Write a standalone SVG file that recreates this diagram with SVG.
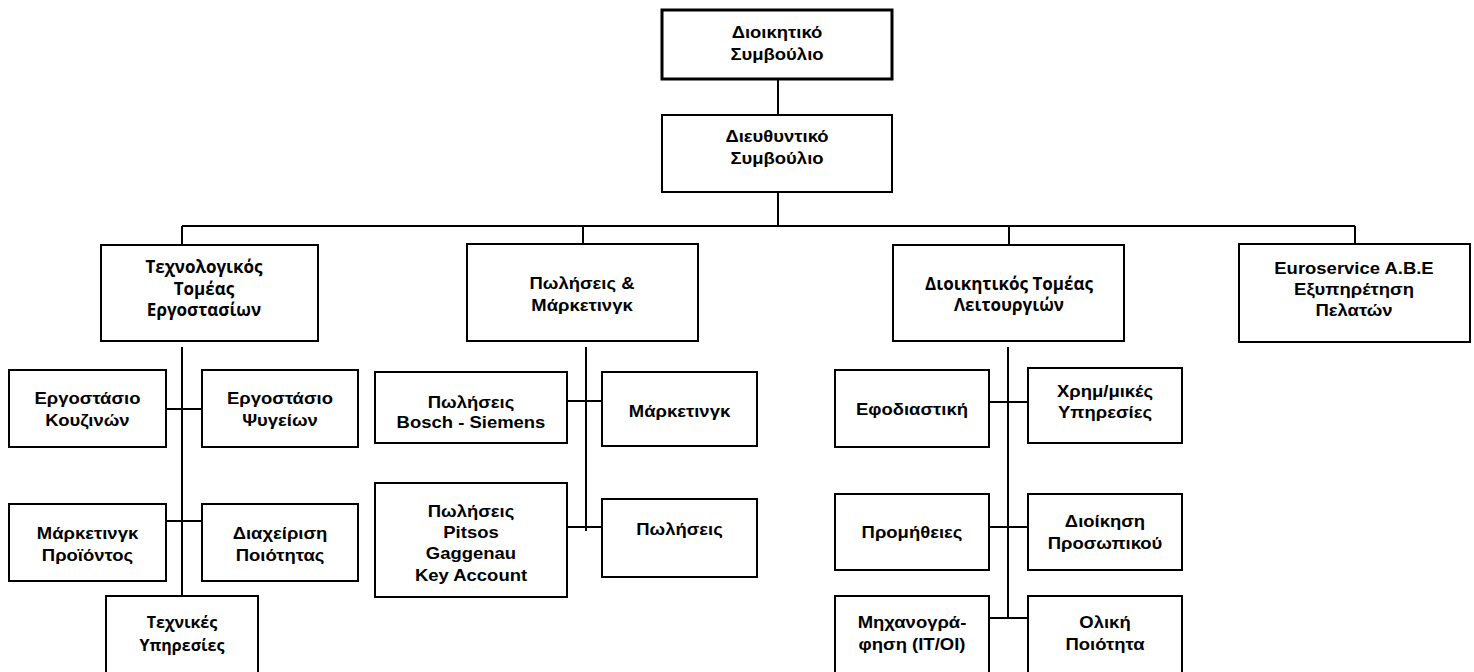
<svg xmlns="http://www.w3.org/2000/svg" width="1474" height="672" viewBox="0 0 1474 672">
  <style>
    .box { fill: #ffffff; stroke: #000000; stroke-width: 2; }
    .box-top { fill: #ffffff; stroke: #000000; stroke-width: 3; }
    .wire { fill: none; stroke: #000000; stroke-width: 2; }
    .lbl { font-family: "Liberation Sans", Arial, sans-serif; font-weight: bold; font-size: 16.5px; fill: #000000; text-anchor: middle; }
    .lbl2 { font-family: "Open Sans", "Noto Sans", sans-serif; font-weight: bold; font-size: 17px; fill: #000000; text-anchor: middle; }
    .lbl2s { font-size: 16px; }
  </style>

  <!-- connectors -->
  <g id="connectors">
    <path class="wire" d="M778 79 V115"/>
    <path class="wire" d="M778 192 V226"/>
    <path class="wire" d="M182 226 H1355"/>
    <path class="wire" d="M182 226 V245"/>
    <path class="wire" d="M583 226 V244"/>
    <path class="wire" d="M1009 226 V245"/>
    <path class="wire" d="M1355 226 V244"/>
    <!-- technology branch -->
    <path class="wire" d="M182 347 V596"/>
    <path class="wire" d="M166 409 H202"/>
    <path class="wire" d="M166 521 H202"/>
    <!-- sales branch -->
    <path class="wire" d="M586 347 V531"/>
    <path class="wire" d="M567 401 H602"/>
    <path class="wire" d="M567 527 H602"/>
    <!-- operations branch -->
    <path class="wire" d="M1008 347 V618"/>
    <path class="wire" d="M989 402 H1028"/>
    <path class="wire" d="M989 527 H1028"/>
    <path class="wire" d="M989 618 H1028"/>
  </g>

  <g id="board">
    <rect class="box-top" x="662" y="10" width="230" height="69"/>
    <text class="lbl" transform="translate(777 0) scale(1.12 1)"><tspan x="0" y="38">Διοικητικό</tspan><tspan x="0" y="60">Συμβούλιο</tspan></text>
  </g>

  <g id="exec-board">
    <rect class="box" x="662" y="115" width="230" height="77"/>
    <text class="lbl" transform="translate(777 0) scale(1.12 1)"><tspan x="0" y="142">Διευθυντικό</tspan><tspan x="0" y="164">Συμβούλιο</tspan></text>
  </g>

  <g id="tech-sector">
    <rect class="box" x="101" y="245" width="217" height="96"/>
    <text class="lbl2"><tspan x="204" y="273">Τεχνολογικός</tspan><tspan x="204" y="295">Τομέας</tspan><tspan x="204" y="316">Εργοστασίων</tspan></text>
  </g>

  <g id="sales-marketing">
    <rect class="box" x="467" y="244" width="231" height="97"/>
    <text class="lbl" transform="translate(582 0) scale(1.12 1)"><tspan x="0" y="289">Πωλήσεις &amp;</tspan><tspan x="0" y="311">Μάρκετινγκ</tspan></text>
  </g>

  <g id="operations">
    <rect class="box" x="893" y="245" width="231" height="96"/>
    <text class="lbl2"><tspan x="1009" y="290">Διοικητικός Τομέας</tspan><tspan x="1009" y="311">Λειτουργιών</tspan></text>
  </g>

  <g id="euroservice">
    <rect class="box" x="1239" y="244" width="231" height="98"/>
    <text class="lbl" transform="translate(1354 0) scale(1.12 1)"><tspan x="0" y="274">Euroservice A.B.E</tspan><tspan x="0" y="295">Εξυπηρέτηση</tspan><tspan x="0" y="316">Πελατών</tspan></text>
  </g>

  <!-- technology units -->
  <g id="kitchen-plant">
    <rect class="box" x="9" y="370" width="157" height="77"/>
    <text class="lbl" transform="translate(87.5 0) scale(1.12 1)"><tspan x="0" y="404">Εργοστάσιο</tspan><tspan x="0" y="426">Κουζινών</tspan></text>
  </g>
  <g id="fridge-plant">
    <rect class="box" x="202" y="370" width="156" height="77"/>
    <text class="lbl" transform="translate(280 0) scale(1.12 1)"><tspan x="0" y="404">Εργοστάσιο</tspan><tspan x="0" y="426">Ψυγείων</tspan></text>
  </g>
  <g id="product-marketing">
    <rect class="box" x="9" y="504" width="157" height="77"/>
    <text class="lbl" transform="translate(87.5 0) scale(1.12 1)"><tspan x="0" y="539">Μάρκετινγκ</tspan><tspan x="0" y="561">Προϊόντος</tspan></text>
  </g>
  <g id="quality-mgmt">
    <rect class="box" x="202" y="504" width="156" height="77"/>
    <text class="lbl" transform="translate(280 0) scale(1.12 1)"><tspan x="0" y="539">Διαχείριση</tspan><tspan x="0" y="561">Ποιότητας</tspan></text>
  </g>
  <g id="technical-services">
    <rect class="box" x="106" y="596" width="152" height="90"/>
    <text class="lbl2 lbl2s"><tspan x="182" y="628">Τεχνικές</tspan><tspan x="182" y="651">Υπηρεσίες</tspan></text>
  </g>

  <!-- sales units -->
  <g id="sales-bosch">
    <rect class="box" x="375" y="372" width="192" height="71"/>
    <text class="lbl" transform="translate(471 0) scale(1.12 1)"><tspan x="0" y="408">Πωλήσεις</tspan><tspan x="0" y="428">Bosch - Siemens</tspan></text>
  </g>
  <g id="marketing">
    <rect class="box" x="602" y="372" width="155" height="74"/>
    <text class="lbl" transform="translate(679.5 0) scale(1.12 1)"><tspan x="0" y="417">Μάρκετινγκ</tspan></text>
  </g>
  <g id="sales-pitsos">
    <rect class="box" x="375" y="483" width="192" height="114"/>
    <text class="lbl" transform="translate(471 0) scale(1.12 1)"><tspan x="0" y="517">Πωλήσεις</tspan><tspan x="0" y="538">Pitsos</tspan><tspan x="0" y="559">Gaggenau</tspan><tspan x="0" y="581">Key Account</tspan></text>
  </g>
  <g id="sales">
    <rect class="box" x="602" y="499" width="155" height="78"/>
    <text class="lbl" transform="translate(679.5 0) scale(1.12 1)"><tspan x="0" y="535">Πωλήσεις</tspan></text>
  </g>

  <!-- operations units -->
  <g id="logistics">
    <rect class="box" x="835" y="370" width="154" height="77"/>
    <text class="lbl" transform="translate(912 0) scale(1.12 1)"><tspan x="0" y="415">Εφοδιαστική</tspan></text>
  </g>
  <g id="finance">
    <rect class="box" x="1028" y="368" width="154" height="75"/>
    <text class="lbl" transform="translate(1105 0) scale(1.12 1)"><tspan x="0" y="397">Χρημ/μικές</tspan><tspan x="0" y="418">Υπηρεσίες</tspan></text>
  </g>
  <g id="procurement">
    <rect class="box" x="835" y="494" width="154" height="76"/>
    <text class="lbl" transform="translate(912 0) scale(1.12 1)"><tspan x="0" y="538">Προμήθειες</tspan></text>
  </g>
  <g id="hr">
    <rect class="box" x="1028" y="494" width="154" height="76"/>
    <text class="lbl" transform="translate(1105 0) scale(1.12 1)"><tspan x="0" y="527">Διοίκηση</tspan><tspan x="0" y="549">Προσωπικού</tspan></text>
  </g>
  <g id="it">
    <rect class="box" x="835" y="596" width="154" height="90"/>
    <text class="lbl" transform="translate(912 0) scale(1.12 1)"><tspan x="0" y="628">Μηχανογρά-</tspan><tspan x="0" y="650">φηση (IT/OI)</tspan></text>
  </g>
  <g id="total-quality">
    <rect class="box" x="1028" y="596" width="154" height="90"/>
    <text class="lbl" transform="translate(1105 0) scale(1.12 1)"><tspan x="0" y="628">Ολική</tspan><tspan x="0" y="650">Ποιότητα</tspan></text>
  </g>
</svg>
